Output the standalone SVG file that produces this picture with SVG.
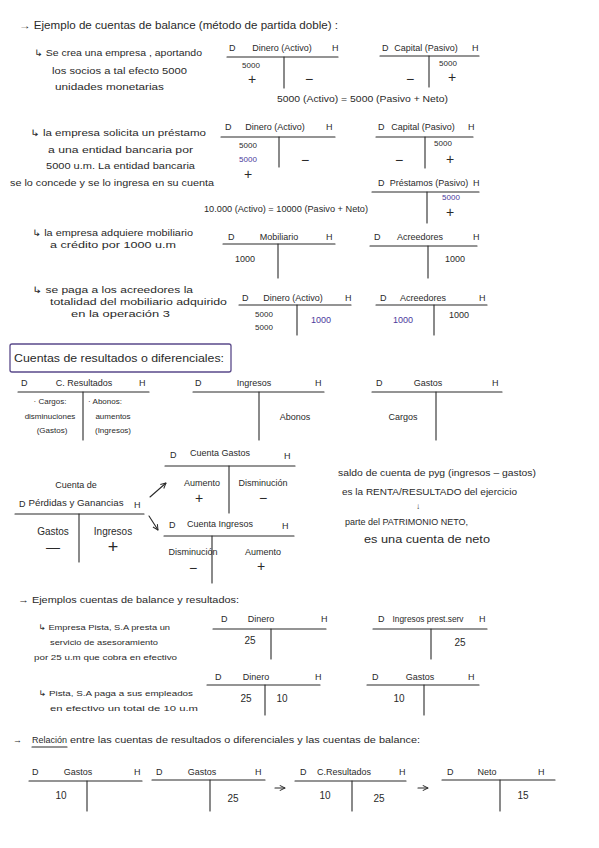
<svg xmlns="http://www.w3.org/2000/svg" width="599" height="848" viewBox="0 0 599 848">
<style>
text{font-family:"Liberation Sans","DejaVu Sans",sans-serif;font-size:9px;fill:#2a2a2a;dominant-baseline:central}
.m{text-anchor:middle}
.s{font-size:8px}
.b{font-size:10px}
.p{fill:#4a3a9c}
.sg{font-size:14px}
.ln{stroke:#2a2a2a;stroke-width:1.1;fill:none;stroke-linecap:round}
</style>
<defs>
<marker id="ah" viewBox="0 0 10 10" refX="9" refY="5" markerWidth="6" markerHeight="6" orient="auto">
<polyline points="1,1 9,5 1,9" fill="none" stroke="#2a2a2a" stroke-width="1.5"/>
</marker>
</defs>
<rect width="599" height="848" fill="#fff"/>

<!-- Section 1 -->
<g id="titulo1"><text x="19" y="25" class="b" textLength="319" lengthAdjust="spacingAndGlyphs">→ Ejemplo de cuentas de balance (método de partida doble) :</text></g>
<g id="nota1">
<text x="34" y="53" textLength="168" lengthAdjust="spacingAndGlyphs">↳ Se crea una empresa , aportando</text>
<text x="52" y="71" textLength="135" lengthAdjust="spacingAndGlyphs">los socios a tal efecto 5000</text>
<text x="55" y="87" textLength="109" lengthAdjust="spacingAndGlyphs">unidades monetarias</text>
</g>
<g id="t-dinero1">
<text x="229" y="48">D</text><text x="282" y="48" class="m">Dinero (Activo)</text><text x="332" y="48">H</text>
<line x1="227" y1="57" x2="338" y2="57" class="ln"/><line x1="284" y1="57" x2="284" y2="88" class="ln"/>
<text x="251" y="65" class="m s">5000</text><text x="252" y="79" class="m sg">+</text><text x="309" y="79" class="m sg">−</text>
</g>
<g id="t-capital1">
<text x="382" y="48">D</text><text x="426" y="48" class="m">Capital (Pasivo)</text><text x="472" y="48">H</text>
<line x1="380" y1="56" x2="479" y2="56" class="ln"/><line x1="429" y1="56" x2="429" y2="87" class="ln"/>
<text x="448" y="63" class="m s">5000</text><text x="452" y="77" class="m sg">+</text><text x="410" y="79" class="m sg">−</text>
</g>
<g id="eq1"><text x="277" y="99" textLength="171" lengthAdjust="spacingAndGlyphs">5000 (Activo) = 5000 (Pasivo + Neto)</text></g>

<!-- Section 2 -->
<g id="nota2">
<text x="30" y="133" textLength="176" lengthAdjust="spacingAndGlyphs">↳ la empresa solicita un préstamo</text>
<text x="48" y="150" textLength="145" lengthAdjust="spacingAndGlyphs">a una entidad bancaria por</text>
<text x="46" y="166" textLength="149" lengthAdjust="spacingAndGlyphs">5000 u.m. La entidad bancaria</text>
<text x="10" y="183" textLength="204" lengthAdjust="spacingAndGlyphs">se lo concede y se lo ingresa en su cuenta</text>
</g>
<g id="t-dinero2">
<text x="225" y="127">D</text><text x="275" y="127" class="m">Dinero (Activo)</text><text x="326" y="127">H</text>
<line x1="221" y1="137" x2="335" y2="137" class="ln"/><line x1="279" y1="137" x2="279" y2="167" class="ln"/>
<text x="248" y="145" class="m s">5000</text><text x="248" y="159" class="m s p">5000</text>
<text x="248" y="174" class="m sg">+</text><text x="305" y="160" class="m sg">−</text>
</g>
<g id="t-capital2">
<text x="378" y="127">D</text><text x="423" y="127" class="m">Capital (Pasivo)</text><text x="468" y="127">H</text>
<line x1="376" y1="137" x2="473" y2="137" class="ln"/><line x1="425" y1="137" x2="425" y2="168" class="ln"/>
<text x="443" y="143" class="m s">5000</text><text x="450" y="159" class="m sg">+</text><text x="399" y="160" class="m sg">−</text>
</g>
<g id="t-prestamos">
<text x="378" y="183">D</text><text x="429" y="183" class="m">Préstamos (Pasivo)</text><text x="473" y="183">H</text>
<line x1="372" y1="192" x2="479" y2="192" class="ln"/><line x1="427" y1="192" x2="427" y2="223" class="ln"/>
<text x="451" y="197" class="m s p">5000</text><text x="450" y="212" class="m sg">+</text>
</g>
<g id="eq2"><text x="204" y="209" textLength="164" lengthAdjust="spacingAndGlyphs">10.000 (Activo) = 10000 (Pasivo + Neto)</text></g>

<!-- Section 3 -->
<g id="nota3">
<text x="32" y="233" textLength="161" lengthAdjust="spacingAndGlyphs">↳ la empresa adquiere mobiliario</text>
<text x="50" y="245" textLength="126" lengthAdjust="spacingAndGlyphs">a crédito por 1000 u.m</text>
</g>
<g id="t-mobiliario">
<text x="228" y="237">D</text><text x="279" y="237" class="m">Mobiliario</text><text x="326" y="237">H</text>
<line x1="223" y1="244" x2="335" y2="244" class="ln"/><line x1="278" y1="244" x2="278" y2="278" class="ln"/>
<text x="245" y="259" class="m">1000</text>
</g>
<g id="t-acreedores1">
<text x="374" y="237">D</text><text x="420" y="237" class="m">Acreedores</text><text x="473" y="237">H</text>
<line x1="370" y1="246" x2="477" y2="246" class="ln"/><line x1="428" y1="246" x2="428" y2="278" class="ln"/>
<text x="455" y="259" class="m">1000</text>
</g>

<!-- Section 4 -->
<g id="nota4">
<text x="32" y="290" textLength="161" lengthAdjust="spacingAndGlyphs">↳ se paga a los acreedores la</text>
<text x="50" y="302" textLength="177" lengthAdjust="spacingAndGlyphs">totalidad del mobiliario adquirido</text>
<text x="71" y="314" textLength="99" lengthAdjust="spacingAndGlyphs">en la operación 3</text>
</g>
<g id="t-dinero3">
<text x="242" y="298">D</text><text x="293" y="298" class="m">Dinero (Activo)</text><text x="345" y="298">H</text>
<line x1="239" y1="305" x2="351" y2="305" class="ln"/><line x1="297" y1="305" x2="297" y2="335" class="ln"/>
<text x="264" y="314" class="m s">5000</text><text x="264" y="327" class="m s">5000</text>
<text x="321" y="320" class="m p">1000</text>
</g>
<g id="t-acreedores2">
<text x="380" y="298">D</text><text x="423" y="298" class="m">Acreedores</text><text x="479" y="298">H</text>
<line x1="376" y1="305" x2="487" y2="305" class="ln"/><line x1="434" y1="305" x2="434" y2="335" class="ln"/>
<text x="403" y="320" class="m p">1000</text><text x="459" y="315" class="m">1000</text>
</g>

<!-- Cuentas de resultados -->
<g id="titulo-resultados">
<rect x="10" y="344" width="221" height="28" rx="2" fill="none" stroke="#5a4a8a" stroke-width="1.3"/>
<text x="14" y="358" style="font-size:11px" textLength="210" lengthAdjust="spacingAndGlyphs">Cuentas de resultados o diferenciales:</text>
</g>
<g id="t-cresultados">
<text x="21" y="383">D</text><text x="84" y="383" class="m">C. Resultados</text><text x="139" y="383">H</text>
<line x1="18" y1="392" x2="149" y2="392" class="ln"/><line x1="83" y1="392" x2="83" y2="440" class="ln"/>
<text x="50" y="401" class="m s">· Cargos:</text><text x="50" y="416" class="m s">disminuciones</text><text x="52" y="430" class="m s">(Gastos)</text>
<text x="105" y="401" class="m s">· Abonos:</text><text x="113" y="416" class="m s">aumentos</text><text x="113" y="430" class="m s">(Ingresos)</text>
</g>
<g id="t-ingresos">
<text x="195" y="383">D</text><text x="254" y="383" class="m">Ingresos</text><text x="315" y="383">H</text>
<line x1="193" y1="392" x2="324" y2="392" class="ln"/><line x1="259" y1="392" x2="259" y2="440" class="ln"/>
<text x="295" y="417" class="m">Abonos</text>
</g>
<g id="t-gastos">
<text x="376" y="383">D</text><text x="428" y="383" class="m">Gastos</text><text x="492" y="383">H</text>
<line x1="372" y1="392" x2="502" y2="392" class="ln"/><line x1="436" y1="392" x2="436" y2="440" class="ln"/>
<text x="403" y="417" class="m">Cargos</text>
</g>

<g id="t-pyg">
<text x="76" y="485" class="m">Cuenta de</text>
<text x="19" y="504">D</text><text x="76" y="503" class="m" textLength="95" lengthAdjust="spacingAndGlyphs">Pérdidas y Ganancias</text><text x="134" y="505">H</text>
<line x1="15" y1="514" x2="144" y2="514" class="ln"/><line x1="79" y1="514" x2="79" y2="562" class="ln"/>
<text x="53" y="531" class="m b">Gastos</text><text x="53" y="547" class="m sg">—</text>
<text x="113" y="531" class="m b">Ingresos</text><text x="113" y="547" class="m" style="font-size:18px">+</text>
</g>
<g id="t-cuentagastos">
<text x="170" y="455">D</text><text x="220" y="453" class="m">Cuenta Gastos</text><text x="284" y="456">H</text>
<line x1="165" y1="466" x2="295" y2="466" class="ln"/><line x1="229" y1="466" x2="229" y2="513" class="ln"/>
<text x="202" y="483" class="m">Aumento</text><text x="199" y="498" class="m sg">+</text>
<text x="263" y="483" class="m">Disminución</text><text x="263" y="498" class="m sg">−</text>
</g>
<g id="t-cuentaingresos">
<text x="169" y="525">D</text><text x="220" y="524" class="m">Cuenta Ingresos</text><text x="282" y="526">H</text>
<line x1="164" y1="536" x2="294" y2="536" class="ln"/><line x1="212" y1="536" x2="212" y2="583" class="ln"/>
<text x="193" y="552" class="m">Disminución</text><text x="193" y="568" class="m sg">−</text>
<text x="263" y="552" class="m">Aumento</text><text x="261" y="566" class="m sg">+</text>
</g>
<g id="nota-saldo">
<text x="338" y="473" textLength="198" lengthAdjust="spacingAndGlyphs">saldo de cuenta de pyg (ingresos – gastos)</text>
<text x="342" y="492" textLength="175" lengthAdjust="spacingAndGlyphs">es la RENTA/RESULTADO del ejercicio</text>
<text x="418" y="506" class="m s">↓</text>
<text x="345" y="522" textLength="123" lengthAdjust="spacingAndGlyphs">parte del PATRIMONIO NETO,</text>
<text x="364" y="539" class="b" textLength="126" lengthAdjust="spacingAndGlyphs">es una cuenta de neto</text>
</g>

<!-- Ejemplos -->
<g id="titulo-ejemplos"><text x="18" y="600" textLength="221" lengthAdjust="spacingAndGlyphs">→ Ejemplos cuentas de balance y resultados:</text></g>
<g id="nota5">
<text x="38" y="627" class="s" textLength="132" lengthAdjust="spacingAndGlyphs">↳ Empresa Pista, S.A presta un</text>
<text x="50" y="642" class="s" textLength="108" lengthAdjust="spacingAndGlyphs">servicio de asesoramiento</text>
<text x="34" y="657" class="s" textLength="143" lengthAdjust="spacingAndGlyphs">por 25 u.m que cobra en efectivo</text>
</g>
<g id="t-dinero4">
<text x="221" y="619">D</text><text x="261" y="619" class="m">Dinero</text><text x="321" y="619">H</text>
<line x1="213" y1="629" x2="326" y2="629" class="ln"/><line x1="271" y1="629" x2="271" y2="659" class="ln"/>
<text x="250" y="640" class="m b">25</text>
</g>
<g id="t-ingresosprest">
<text x="378" y="619">D</text><text x="428" y="619" class="m" textLength="71" lengthAdjust="spacingAndGlyphs">Ingresos prest.serv</text><text x="479" y="619">H</text>
<line x1="373" y1="629" x2="487" y2="629" class="ln"/><line x1="431" y1="629" x2="431" y2="659" class="ln"/>
<text x="460" y="642" class="m b">25</text>
</g>
<g id="nota6">
<text x="38" y="693" class="s" textLength="155" lengthAdjust="spacingAndGlyphs">↳ Pista, S.A paga a sus empleados</text>
<text x="50" y="708" class="s" textLength="148" lengthAdjust="spacingAndGlyphs">en efectivo un total de 10 u.m</text>
</g>
<g id="t-dinero5">
<text x="215" y="677">D</text><text x="256" y="677" class="m">Dinero</text><text x="315" y="677">H</text>
<line x1="207" y1="685" x2="320" y2="685" class="ln"/><line x1="265" y1="685" x2="265" y2="715" class="ln"/>
<text x="246" y="698" class="m b">25</text><text x="282" y="698" class="m b">10</text>
</g>
<g id="t-gastos2">
<text x="372" y="677">D</text><text x="420" y="677" class="m">Gastos</text><text x="468" y="677">H</text>
<line x1="367" y1="685" x2="479" y2="685" class="ln"/><line x1="424" y1="685" x2="424" y2="715" class="ln"/>
<text x="399" y="698" class="m b">10</text>
</g>

<!-- Relación -->
<g id="titulo-relacion">
<text x="13" y="740">→</text>
<text x="32" y="740" textLength="35" lengthAdjust="spacingAndGlyphs">Relación</text>
<line x1="32" y1="747" x2="67" y2="747" class="ln"/>
<text x="70" y="740" textLength="350" lengthAdjust="spacingAndGlyphs">entre las cuentas de resultados o diferenciales y las cuentas de balance:</text>
</g>
<g id="t-rel-gastos1">
<text x="32" y="772">D</text><text x="78" y="772" class="m">Gastos</text><text x="134" y="772">H</text>
<line x1="29" y1="781" x2="142" y2="781" class="ln"/><line x1="87" y1="781" x2="87" y2="811" class="ln"/>
<text x="61" y="795" class="m b">10</text>
</g>
<g id="t-rel-gastos2">
<text x="156" y="772">D</text><text x="202" y="772" class="m">Gastos</text><text x="255" y="772">H</text>
<line x1="152" y1="780" x2="265" y2="780" class="ln"/><line x1="210" y1="780" x2="210" y2="811" class="ln"/>
<text x="233" y="798" class="m b">25</text>
</g>
<g id="t-rel-cresultados">
<text x="300" y="772">D</text><text x="344" y="772" class="m">C.Resultados</text><text x="399" y="772">H</text>
<line x1="295" y1="781" x2="406" y2="781" class="ln"/><line x1="352" y1="781" x2="352" y2="811" class="ln"/>
<text x="325" y="795" class="m b">10</text><text x="379" y="798" class="m b">25</text>
</g>
<g id="t-rel-neto">
<text x="447" y="772">D</text><text x="487" y="772" class="m">Neto</text><text x="538" y="772">H</text>
<line x1="442" y1="780" x2="555" y2="780" class="ln"/><line x1="500" y1="780" x2="500" y2="811" class="ln"/>
<text x="523" y="795" class="m b">15</text>
</g>

<g id="connectors">
<line x1="150" y1="497" x2="166" y2="483" class="ln" marker-end="url(#ah)"/>
<line x1="149" y1="516" x2="158" y2="530" class="ln" marker-end="url(#ah)"/>
<line x1="275" y1="788" x2="285" y2="788" class="ln" marker-end="url(#ah)"/>
<line x1="418" y1="788" x2="428" y2="788" class="ln" marker-end="url(#ah)"/>
</g>
</svg>
